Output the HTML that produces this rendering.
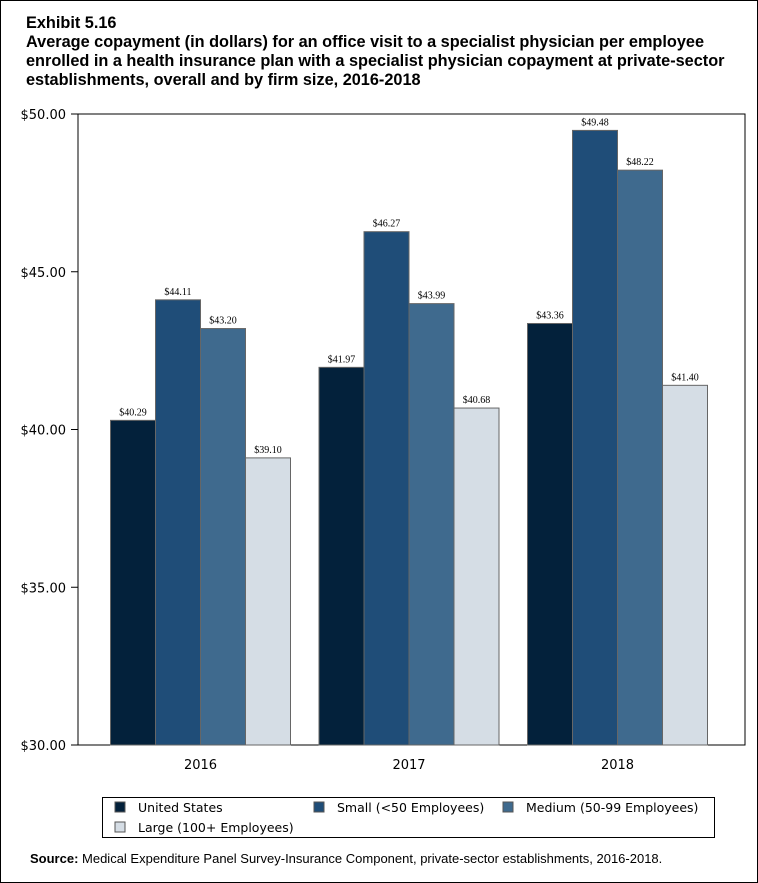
<!DOCTYPE html>
<html><head><meta charset="utf-8"><style>
body{margin:0;background:#fff}
#wrap{position:relative;width:756px;height:881px;border:1px solid #000;font-family:"Liberation Sans",sans-serif}
.t{position:absolute;left:25px;font-weight:bold;font-size:16.3px;line-height:19px;color:#000}
</style></head><body>
<div id="wrap">
<div class="t" style="top:13px">Exhibit 5.16</div>
<div class="t" style="top:32px;width:725px">Average copayment (in dollars) for an office visit to a specialist physician per employee enrolled in a health insurance plan with a specialist physician copayment at private-sector establishments, overall and by firm size, 2016-2018</div>
<svg id="chart" width="756" height="881" style="position:absolute;left:0;top:0"></svg>
<div style="position:absolute;left:29px;top:850px;font-size:13px"><b>Source:</b> Medical Expenditure Panel Survey-Insurance Component, private-sector establishments, 2016-2018.</div>
</div>
<script>
const categories=["2016","2017","2018"];
const seriesNames=["United States","Small (<50 Employees)","Medium (50-99 Employees)","Large (100+ Employees)"];
const usValues=[40.29,41.97,43.36];
const smallValues=[44.11,46.27,49.48];
const mediumValues=[43.20,43.99,48.22];
const largeValues=[39.10,40.68,41.40];
const yTicks=[30,35,40,45,50];
const colors=["#03213b","#1f4d78","#3f6a8e","#d5dde5"];
const series=[usValues,smallValues,mediumValues,largeValues];
const svg=document.getElementById('chart');const NS='http://www.w3.org/2000/svg';
function mk(t,a,p){const e=document.createElementNS(NS,t);for(const k in a)e.setAttribute(k,a[k]);(p||svg).appendChild(e);return e;}
const L=77,R=744,T=113,B=744,yMin=30,yMax=50;
const y=v=>B-(v-yMin)/(yMax-yMin)*(B-T);
const bw=45;
const gx=i=>199.5+208.5*i;
const frame=mk('rect',{x:L,y:T,width:R-L,height:B-T,fill:'none',stroke:'#000','stroke-width':1});

yTicks.forEach(v=>{const l=mk('line',{x1:L-7,x2:L,y1:y(v),y2:y(v),stroke:'#000'});

const t=mk('text',{x:L-12,y:y(v)+5,'text-anchor':'end','font-size':13,'font-family':'DejaVu Sans, sans-serif',fill:'#000'});
t.textContent='$'+v.toFixed(2);});
categories.forEach((c,i)=>{
 const t=mk('text',{x:gx(i),y:B+24,'text-anchor':'middle','font-size':13,'font-family':'DejaVu Sans, sans-serif'});
 t.textContent=c;
 series.forEach((s,j)=>{const x0=gx(i)-2*bw+j*bw;const v=s[i];
  const r=mk('rect',{x:x0,y:y(v),width:bw,height:B-y(v),fill:colors[j],stroke:'#666','stroke-width':1});
  
  const lt=mk('text',{x:x0+bw/2,y:y(v)-5,'text-anchor':'middle','font-size':10,'font-family':'Liberation Serif, serif'});
  lt.textContent='$'+v.toFixed(2);});
});
const lg=mk('rect',{x:101.5,y:796.5,width:612,height:40,fill:'none',stroke:'#000'});

const pos=[[114,801],[313,801],[502,801],[114,821]];
seriesNames.forEach((n,j)=>{const [px,py]=pos[j];
 const s=mk('rect',{x:px,y:py,width:10,height:10,fill:colors[j],stroke:'#555'});
 
 const t=mk('text',{x:px+23,y:py+10,'font-size':12.5,'font-family':'DejaVu Sans, sans-serif'});
 t.textContent=n;});
</script></body></html>
